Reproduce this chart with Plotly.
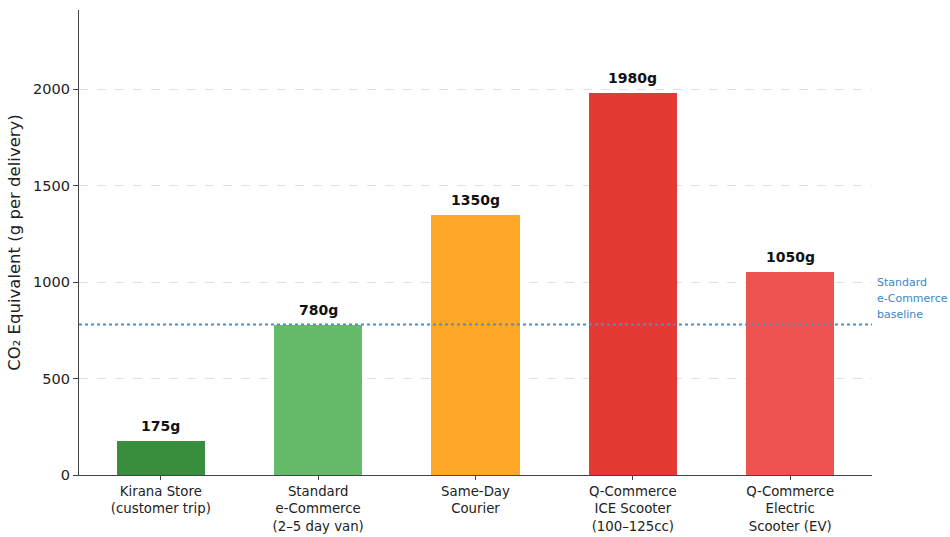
import plotly.graph_objects as go

categories = ["Kirana Store<br>(customer trip)", "Standard<br>e-Commerce<br>(2–5 day van)",
              "Same-Day<br>Courier", "Q-Commerce<br>ICE Scooter<br>(100–125cc)",
              "Q-Commerce<br>Electric<br>Scooter (EV)"]
values = [175, 780, 1350, 1980, 1050]
labels = ["175g", "780g", "1350g", "1980g", "1050g"]
colors = ["#388E3C", "#66BB6A", "#FFA726", "#E53935", "#EF5350"]
baseline = 780
baseline_label = ["Standard", "e-Commerce", "baseline"]
ytick_vals = [0, 500, 1000, 1500, 2000]

xs = list(range(len(categories)))
fig = go.Figure()
fig.add_trace(go.Bar(x=xs, y=values, width=0.56, marker=dict(color=colors, line=dict(width=0)),
                     hoverinfo="skip"))

for x, v, t in zip(xs, values, labels):
    fig.add_annotation(x=x, y=v, text=f"<b>{t}</b>", showarrow=False, yanchor="bottom",
                       yshift=5, font=dict(size=14, color="#111111"))

fig.add_shape(type="line", xref="paper", x0=0, x1=1, y0=baseline, y1=baseline,
              line=dict(color="#4a90c8", width=1.8, dash="dot"))
for i, line in enumerate(baseline_label):
    fig.add_annotation(xref="paper", x=1.004, y=baseline, yshift=42 - 16 * i, xanchor="left",
                       yanchor="middle", text=line, showarrow=False, align="left",
                       font=dict(size=11, color="#3a87c8"))

fig.update_layout(
    width=950, height=537,
    margin=dict(l=79, r=78, t=10, b=62),
    plot_bgcolor="white", paper_bgcolor="white",
    font=dict(family="DejaVu Sans", size=12, color="#222222"),
    showlegend=False,
    bargap=0,
)
fig.update_xaxes(range=[-0.52, 4.52], tickvals=xs, ticktext=categories, showline=True,
                 linecolor="#444444", linewidth=1.2, ticks="outside", ticklen=4,
                 tickcolor="#444444", showgrid=False, zeroline=False, ticklabelstandoff=0,
                 automargin=False, tickfont=dict(size=13.3, color="#222222"))
fig.update_yaxes(range=[0, 2410], tickvals=ytick_vals, showline=True, linecolor="#444444",
                 linewidth=1.2, ticks="outside", ticklen=5, tickcolor="#444444",
                 showgrid=True, gridcolor="#e0e0e0", griddash="dash", gridwidth=1,
                 zeroline=False, automargin=False, tickfont=dict(size=14.5, color="#222222"),
                 title=dict(text="CO₂ Equivalent (g per delivery)", font=dict(size=16.5, color="#222222"),
                            standoff=8))

fig.write_html("out.html")
